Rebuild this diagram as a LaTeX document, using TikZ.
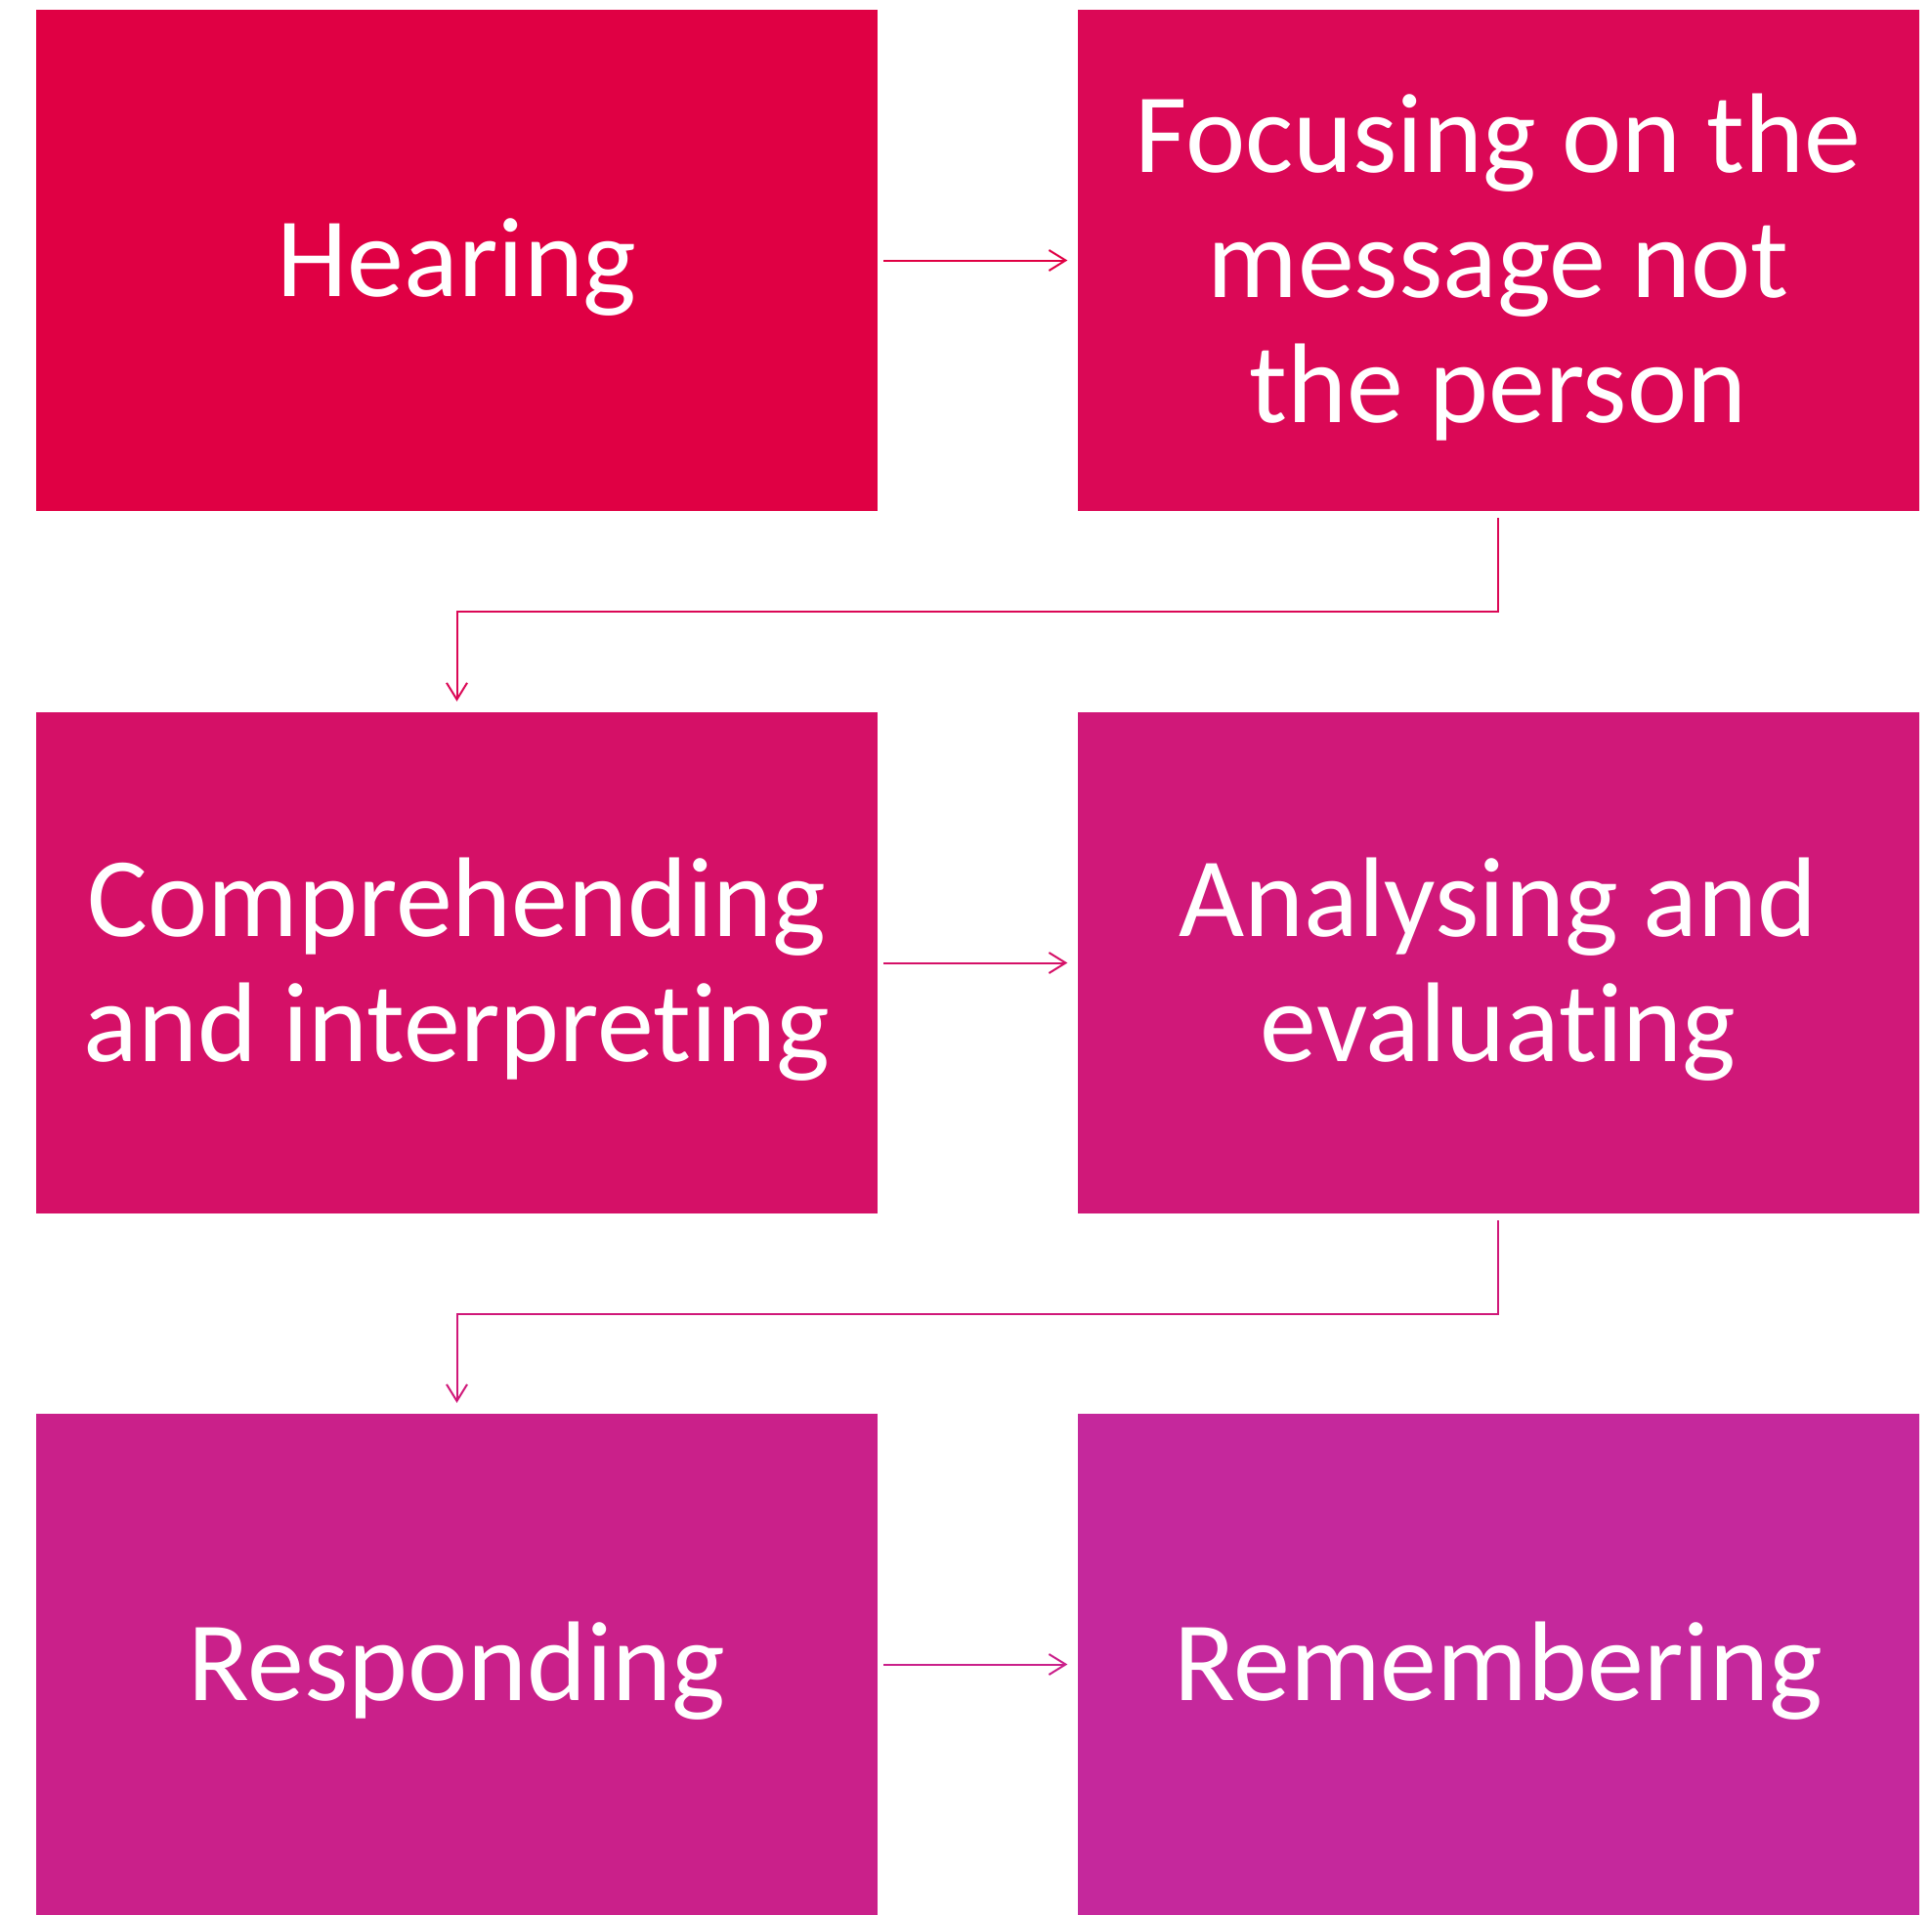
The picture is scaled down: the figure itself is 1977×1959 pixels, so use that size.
\documentclass[tikz,border=0pt]{standalone}
\usepackage{fontspec}
\setmainfont[RawFeature=-liga]{Carlito}
\usetikzlibrary{arrows.meta,calc}
\definecolor{c1}{RGB}{224,0,68}
\definecolor{c2}{RGB}{219,8,86}
\definecolor{c3}{RGB}{213,16,103}
\definecolor{c4}{RGB}{208,24,121}
\definecolor{c5}{RGB}{202,32,138}
\definecolor{c6}{RGB}{197,40,156}
\tikzset{
  box/.style={rectangle, inner sep=0pt, minimum width=861pt, minimum height=513pt},
  lab/.style={text=white, align=center, inner sep=0pt, yshift=-7pt,
    font=\fontsize{116}{128}\selectfont},
  arr/.style={line width=2pt, -{Straight Barb[length=17pt,width=21pt,line width=2pt]}},
}
\begin{document}
\begin{tikzpicture}[x=1pt,y=-1pt]
\useasboundingbox (0,0) rectangle (1977,1959);
\node[box, fill=c1, label={[lab]center:Hearing}] (b1) at (467.5,266.5) {};
\node[box, fill=c2, label={[lab]center:Focusing on the\\message not\\the person}] (b2) at (1533,266.5) {};
\node[box, fill=c3, label={[lab]center:Comprehending\\and interpreting}] (b3) at (467.5,985.5) {};
\node[box, fill=c4, label={[lab]center:Analysing and\\evaluating}] (b4) at (1533,985.5) {};
\node[box, fill=c5, label={[lab]center:Responding}] (b5) at (467.5,1703.5) {};
\node[box, fill=c6, label={[lab]center:Remembering}] (b6) at (1533,1703.5) {};
\draw[arr, c1] ($(b1.east)+(6,0)$) -- ($(b2.west)+(-10,0)$);
\draw[arr, c2] ($(b2.south)+(0,7)$) -- ++(0,96) -| ($(b3.north)+(0,-11)$);
\draw[arr, c3] ($(b3.east)+(6,0)$) -- ($(b4.west)+(-10,0)$);
\draw[arr, c4] ($(b4.south)+(0,7)$) -- ++(0,96) -| ($(b5.north)+(0,-11)$);
\draw[arr, c5] ($(b5.east)+(6,0)$) -- ($(b6.west)+(-10,0)$);
\end{tikzpicture}
\end{document}
